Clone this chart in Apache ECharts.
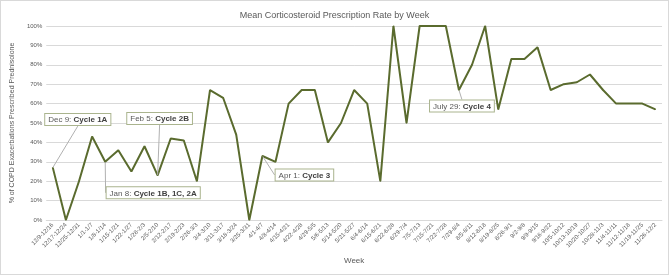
<!DOCTYPE html>
<html>
<head>
<meta charset="utf-8">
<script src="https://cdn.jsdelivr.net/npm/echarts@6/dist/echarts.min.js"></script>
<style>
html,body{margin:0;padding:0;background:#fff;}
#chart{width:667px;height:273px;border:1px solid #d9d9d9;}
</style>
</head>
<body>
<div id="chart"></div>
<script>
// weekly buckets
var weeks = ['12/9-12/16','12/17-12/24','12/25-12/31','1/1-1/7','1/8-1/14','1/15-1/21','1/22-1/27','1/28-2/3',
    '2/5-2/10','2/12-2/17','2/19-2/23','2/26-3/3','3/4-3/10','3/11-3/17','3/18-3/24','3/25-3/31',
    '4/1-4/7','4/8-4/14','4/15-4/21','4/22-4/28','4/29-5/5','5/6-5/13','5/14-5/20','5/21-5/27',
    '6/4-6/14','6/15-6/21','6/22-6/28','6/29-7/4','7/5-7/13','7/15-7/21','7/22-7/28','7/29-8/4',
    '8/5-8/11','8/12-8/18','8/19-8/25','8/26-9/1','9/2-9/8','9/9-9/15','9/16-9/22','10/5-10/12',
    '10/13-10/19','10/20-10/27','10/28-11/3','11/4-11/11','11/12-11/18','11/19-11/25','11/26-12/2'];

// % prescribed prednisolone
var rates = [27, 0, 20, 43, 30, 36, 25, 38, 23, 42, 41, 20, 67, 63, 44, 0,
    33, 30, 60, 67, 67, 40, 50, 67, 60, 20, 100, 50, 100, 100, 100, 67,
    80, 100, 57, 83, 83, 89, 67, 70, 71, 75, 67, 60, 60, 60, 57];

// callouts
var noteWeeks = [0, 4, 8, 16, 31];
var noteDates = ['Dec 9', 'Jan 8', 'Feb 5', 'Apr 1', 'July 29'];
var noteCycles = ['Cycle 1A', 'Cycle 1B, 1C, 2A', 'Cycle 2B', 'Cycle 3', 'Cycle 4'];

// where each callout box sits relative to its point (px)
var noteShift = {0: [25, -37], 4: [48, 42], 8: [2, -46], 16: [42, 30], 31: [3, 27]};

var grey = '#595959';
var font = 'Liberation Sans';

var data = rates.map(function(v, i) {
    var k = noteWeeks.indexOf(i);
    if (k < 0) return v;
    return {
        value: v,
        label: {show: true, formatter: '{d|' + noteDates[k] + ': }{c|' + noteCycles[k] + '}'}
    };
});

var chart = echarts.init(document.getElementById('chart'));
chart.setOption({
    animation: false,
    textStyle: {fontFamily: font},
    title: {
        text: 'Mean Corticosteroid Prescription Rate by Week',
        left: 'center', top: 5,
        textStyle: {fontSize: 9, fontWeight: 'normal', color: grey, fontFamily: font}
    },
    grid: {left: 39, right: 6, top: 25, bottom: 54},
    xAxis: {
        type: 'category',
        data: weeks,
        name: 'Week',
        nameLocation: 'middle',
        nameGap: 37,
        nameTextStyle: {fontSize: 8, color: grey},
        axisLine: {lineStyle: {color: '#d9d9d9'}},
        axisTick: {show: false},
        axisLabel: {rotate: 45, interval: 0, fontSize: 6, color: grey, margin: 4}
    },
    yAxis: {
        type: 'value',
        min: 0, max: 100, interval: 10,
        name: '% of COPD Exacerbations Prescribed Prednisolone',
        nameLocation: 'middle',
        nameGap: 30,
        nameTextStyle: {fontSize: 7, color: grey},
        splitLine: {lineStyle: {color: '#d9d9d9'}},
        axisLabel: {formatter: '{value}%', fontSize: 6, color: grey, margin: 4}
    },
    series: [{
        type: 'line',
        data: data,
        symbol: 'circle',
        symbolSize: 1,
        itemStyle: {color: '#5a6b2e'},
        lineStyle: {color: '#5a6b2e', width: 2},
        label: {
            position: 'top',
            backgroundColor: '#fff',
            borderColor: '#aab48e',
            borderWidth: 1,
            padding: [2, 3, 1, 3],
            rich: {
                d: {fontSize: 8, color: grey, fontFamily: font},
                c: {fontSize: 8, color: '#404040', fontWeight: 'bold', fontFamily: font}
            }
        },
        labelLine: {show: true, lineStyle: {color: '#b0b0b0', width: 1}},
        labelLayout: function(p) {
            var s = noteShift[p.dataIndex];
            return s ? {dx: s[0], dy: s[1]} : {};
        },
        emphasis: {disabled: true}
    }]
});
</script>
</body>
</html>
